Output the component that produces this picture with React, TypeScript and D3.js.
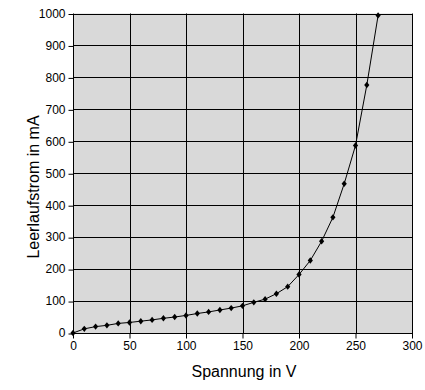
import React, { useEffect, useRef } from 'react';
import * as d3 from 'd3';

// measured points: voltage (V) and no-load current (mA)
const voltages = [0, 10, 20, 30, 40, 50, 60, 70, 80, 90, 100, 110, 120, 130, 140, 150, 160, 170, 180, 190, 200, 210, 220, 230, 240, 250, 260, 270];
const currents = [0, 13, 20, 24, 30, 33, 37, 41, 46, 50, 55, 61, 66, 72, 78, 85, 96, 106, 123, 145, 183, 227, 287, 362, 467, 587, 776, 994];
const xTicks = [0, 50, 100, 150, 200, 250, 300];
const yTicks = [0, 100, 200, 300, 400, 500, 600, 700, 800, 900, 1000];

const App = () => {
  const ref = useRef<SVGSVGElement>(null);

  useEffect(() => {
    const svg = d3.select(ref.current);
    const left = 73, right = 412, top = 13.5, bottom = 333;

    const x = d3.scaleLinear().domain([0, 300]).range([left, right]);
    const y = d3.scaleLinear().domain([0, 1000]).range([bottom, top]);

    const font = '"Liberation Sans", Arial, sans-serif';

    // plot background
    svg.append('rect')
      .attr('x', left).attr('y', top)
      .attr('width', right - left).attr('height', bottom - top)
      .attr('fill', '#d9d9d9');

    // grid
    const g = svg.append('g');
    g.selectAll('.vgrid').data(xTicks).enter().append('line')
      .attr('x1', d => Math.round(x(d)) + 0.5).attr('x2', d => Math.round(x(d)) + 0.5)
      .attr('y1', top).attr('y2', bottom)
      .attr('stroke', '#000').attr('stroke-width', 1);
    g.selectAll('.hgrid').data(yTicks).enter().append('line')
      .attr('y1', d => Math.round(y(d)) + 0.5).attr('y2', d => Math.round(y(d)) + 0.5)
      .attr('x1', left).attr('x2', right)
      .attr('stroke', '#000').attr('stroke-width', 1);

    // axes
    const fmt = d3.format('d');
    const xAxisG = svg.append('g')
      .attr('transform', `translate(0,${Math.round(bottom) + 0.5})`)
      .call(d3.axisBottom(x).tickValues(xTicks).tickFormat(fmt).tickSize(5).tickPadding(3));
    const yAxisG = svg.append('g')
      .attr('transform', `translate(${Math.round(left) + 0.5},0)`)
      .call(d3.axisLeft(y).tickValues(yTicks).tickFormat(fmt).tickSize(5).tickPadding(3));

    [xAxisG, yAxisG].forEach(a => {
      a.select('.domain').remove();
      a.selectAll('line').attr('stroke', '#000');
      a.selectAll('text')
        .attr('fill', '#000')
        .style('font-family', font)
        .style('font-size', '12px');
    });
    yAxisG.selectAll('.tick line').attr('transform', 'translate(0,0.5)');

    // border
    svg.append('rect')
      .attr('x', Math.round(left) + 0.5).attr('y', Math.round(top) + 0.5)
      .attr('width', Math.round(right) - Math.round(left)).attr('height', Math.round(bottom) - Math.round(top))
      .attr('fill', 'none').attr('stroke', '#000');

    // curve
    const pts = voltages.map((v, i) => [v, currents[i]] as [number, number]);
    svg.append('path')
      .datum(pts)
      .attr('fill', 'none')
      .attr('stroke', '#000')
      .attr('stroke-width', 1)
      .attr('d', d3.line<[number, number]>().x(d => x(d[0])).y(d => y(d[1])));

    svg.selectAll('.marker').data(pts).enter().append('path')
      .attr('transform', d => `translate(${x(d[0])},${y(d[1])})`)
      .attr('d', 'M0,-3.2L2.6,0L0,3.2L-2.6,0Z')
      .attr('fill', '#000');

    // titles
    svg.append('text')
      .attr('x', 244).attr('y', 377)
      .attr('text-anchor', 'middle')
      .style('font-family', font).style('font-size', '16px')
      .text('Spannung in V');
    svg.append('text')
      .attr('transform', 'translate(39,187) rotate(-90)')
      .attr('text-anchor', 'middle')
      .style('font-family', font).style('font-size', '16px')
      .text('Leerlaufstrom in mA');

    return () => {
      svg.selectAll('*').remove();
    };
  }, []);

  return (
    <svg ref={ref} width={425} height={390} style={{ position: 'absolute', left: 0, top: 0, background: '#fff' }}></svg>
  );
};

export default App;
